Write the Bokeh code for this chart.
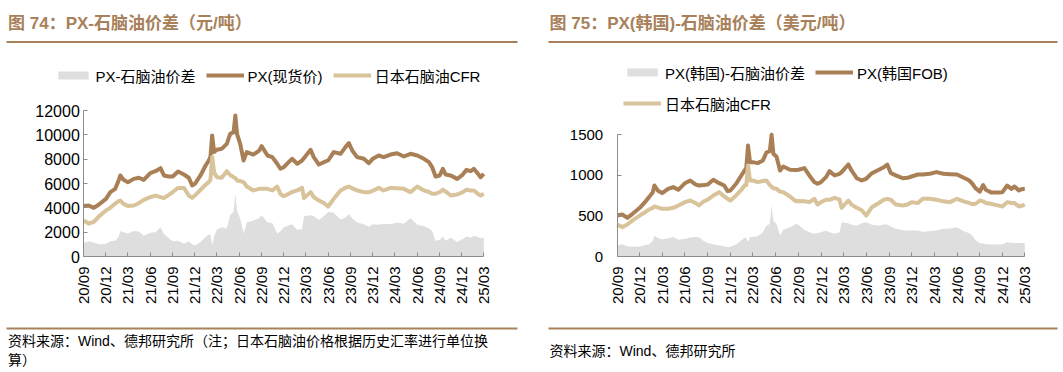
import math
from datetime import datetime
from bokeh.plotting import figure
from bokeh.models import (Range1d, FixedTicker, Legend, LegendItem, Label, BoxAnnotation,
                          ColumnDataSource, DatetimeTickFormatter)
from bokeh.layouts import row
from bokeh.embed import file_html
from bokeh.resources import INLINE

# ---------------- data ----------------
dates = [
    "2020-09-01", "2020-09-21", "2020-10-12", "2020-11-02", "2020-12-01", "2020-12-19",
    "2021-01-08", "2021-01-22", "2021-01-29", "2021-02-11", "2021-03-01", "2021-03-25",
    "2021-04-15", "2021-05-05", "2021-06-01", "2021-06-22", "2021-07-13", "2021-07-27",
    "2021-08-16", "2021-09-01", "2021-09-23", "2021-10-17", "2021-11-06", "2021-11-20",
    "2021-12-01", "2021-12-24", "2022-01-14", "2022-01-27", "2022-02-03", "2022-02-10",
    "2022-02-18", "2022-03-01", "2022-03-21", "2022-04-11", "2022-04-25", "2022-05-09",
    "2022-05-16", "2022-05-23", "2022-06-05", "2022-06-19", "2022-07-02", "2022-07-29",
    "2022-08-22", "2022-09-01", "2022-09-25", "2022-10-15", "2022-11-04", "2022-11-17",
    "2022-12-01", "2022-12-21", "2023-01-04", "2023-01-25", "2023-02-14", "2023-02-22",
    "2023-03-21", "2023-04-03", "2023-04-24", "2023-05-14", "2023-06-01", "2023-06-24",
    "2023-07-22", "2023-08-11", "2023-08-25", "2023-09-08", "2023-09-28", "2023-10-26",
    "2023-11-15", "2023-12-01", "2023-12-26", "2024-01-15", "2024-02-12", "2024-03-10",
    "2024-04-07", "2024-05-04", "2024-06-01", "2024-06-28", "2024-07-19", "2024-08-01",
    "2024-08-15", "2024-09-01", "2024-09-14", "2024-09-25", "2024-10-16", "2024-11-12",
    "2024-12-01", "2024-12-20", "2025-01-06", "2025-01-19", "2025-02-05", "2025-02-16",
    "2025-03-01",
]

# Figure 74 (CNY/t)
px_spot_cny = [
    4150, 4190, 4000, 4270, 4740, 5290, 5560, 6250, 6660, 6300, 6110, 6380,
    6470, 6300, 6850, 7010, 7260, 6660, 6580, 6580, 6990, 6740, 6470, 5840,
    5970, 6660, 7480, 7890, 8200, 9950, 8580, 8770, 8850, 9260, 10080, 10220,
    11590, 10080, 9260, 7890, 8580, 8380, 8710, 9070, 8300, 8170, 7620, 7210,
    7340, 7750, 8030, 7620, 7890, 8100, 8770, 8170, 7560, 7750, 7890, 8580,
    8440, 8990, 9320, 8710, 8170, 8030, 7670, 8030, 8300, 8170, 8380, 8490,
    8220, 8440, 8300, 8030, 7750, 7340, 6580, 6660, 7210, 6740, 6660, 6380,
    6660, 7120, 7010, 7210, 6800, 6520, 6800,
]
naphtha_cfr_cny = [
    2960, 2700, 2850, 3300, 3780, 4000, 4350, 4550, 4600, 4330, 4160, 4190,
    4380, 4660, 4880, 5010, 4880, 4800, 5070, 5300, 5640, 5640, 5010, 4820,
    5010, 5480, 5900, 6110, 6300, 8170, 6930, 6520, 6470, 7010, 6700, 6520,
    6450, 6250, 6200, 6110, 5750, 5430, 5560, 5560, 5560, 5430, 5750, 5150,
    4950, 5150, 5300, 5430, 5640, 4800, 5290, 4880, 4600, 4400, 4110, 4740,
    5430, 5650, 5750, 5600, 5430, 5290, 5290, 5400, 5640, 5430, 5640, 5600,
    5560, 5290, 5750, 5430, 5300, 5150, 5150, 5300, 5480, 5350, 5010, 5100,
    5250, 5480, 5430, 5430, 5150, 5010, 5150,
]
spread_cny = [
    1100, 1250, 1150, 1000, 1050, 1250, 1300, 1600, 2100, 2000, 1900, 2100,
    2050, 1700, 1950, 2000, 2400, 1850, 1500, 1250, 1300, 1050, 1250, 1000,
    900, 1200, 1600, 1800, 1800, 900, 1650, 2200, 2400, 2300, 3400, 3700,
    5150, 3800, 3100, 1900, 2800, 2950, 3150, 3400, 2800, 2750, 1900, 2050,
    2400, 2550, 2650, 2200, 2250, 3300, 3400, 3300, 3000, 3300, 3650, 3600,
    3050, 3200, 3500, 3150, 2800, 2650, 2450, 2650, 2600, 2700, 2650, 2800,
    2700, 3150, 2600, 2500, 2300, 2100, 1300, 1350, 1650, 1300, 1550, 1200,
    1400, 1650, 1550, 1700, 1600, 1500, 1550,
]

# Figure 75 (USD/t)
px_korea_fob_usd = [
    505, 518, 477, 526, 600, 660, 735, 790, 875, 814, 781, 834,
    855, 822, 904, 937, 888, 875, 880, 888, 945, 904, 875, 806,
    814, 896, 999, 1060, 1090, 1369, 1163, 1163, 1151, 1184, 1280, 1300,
    1500, 1266, 1230, 1060, 1110, 1070, 1065, 1069, 1090, 999, 917, 896,
    917, 978, 1052, 999, 1019, 1040, 1134, 1060, 965, 937, 958, 1027,
    1070, 1100, 1134, 1030, 1000, 965, 970, 986, 1011, 1011, 1020, 1040,
    1020, 1015, 1011, 970, 940, 900, 840, 800, 880, 822, 790, 790,
    793, 875, 834, 863, 814, 830, 834,
]
naphtha_cfr_usd = [
    395, 362, 395, 444, 505, 540, 580, 600, 617, 605, 588, 588,
    600, 629, 670, 690, 660, 629, 680, 700, 752, 793, 740, 711,
    690, 752, 820, 875, 880, 1122, 937, 937, 917, 930, 937, 880,
    860, 840, 834, 800, 793, 740, 680, 685, 680, 670, 711, 640,
    670, 699, 699, 723, 700, 600, 690, 640, 600, 570, 505, 608,
    660, 700, 711, 700, 641, 629, 640, 670, 658, 711, 711, 700,
    680, 670, 711, 680, 660, 645, 650, 690, 680, 660, 649, 630,
    617, 670, 660, 658, 617, 625, 641,
]
spread_usd = [
    136, 150, 125, 120, 123, 140, 150, 190, 255, 230, 210, 225,
    240, 205, 220, 235, 240, 238, 190, 165, 150, 136, 125, 115,
    120, 148, 200, 230, 230, 177, 240, 240, 250, 300, 380, 400,
    629, 444, 400, 259, 330, 360, 400, 390, 330, 300, 280, 290,
    300, 321, 300, 280, 300, 423, 410, 390, 380, 410, 423, 390,
    380, 395, 395, 370, 341, 325, 321, 321, 321, 305, 310, 321,
    341, 345, 360, 310, 290, 260, 200, 164, 160, 150, 148, 148,
    150, 177, 170, 165, 165, 165, 164,
]

tick_labels = ["20/09", "20/12", "21/03", "21/06", "21/09", "21/12", "22/03", "22/06",
               "22/09", "22/12", "23/03", "23/06", "23/09", "23/12", "24/03", "24/06",
               "24/09", "24/12", "25/03"]
y_ticks_cny = [0, 2000, 4000, 6000, 8000, 10000, 12000]
y_ticks_usd = [0, 500, 1000, 1500]

legend_cny = ["PX-石脑油价差", "PX(现货价)", "日本石脑油CFR"]
legend_usd = ["PX(韩国)-石脑油价差", "PX(韩国FOB)", "日本石脑油CFR"]

# ---------------- styles ----------------
BROWN = "#A8815B"
PX_COLOR = "#A97F56"
NAP_COLOR = "#D8C39B"
AREA_COLOR = "#DEDEDE"
AXIS_COLOR = "#8C8C8C"
MIXED = "'Liberation Sans', 'Noto Sans CJK SC', sans-serif"
H = 371


def tick_dt(lbl):
    yy, mm = lbl.split("/")
    return datetime(2000 + int(yy), int(mm), 1)


def to_ms(d):
    return (d - datetime(1970, 1, 1)).total_seconds() * 1000.0


x_dates = [datetime.strptime(d, "%Y-%m-%d") for d in dates]


def make_panel(fig_w, fig_left, ax_x0, ax_x1, ax_y0, ax_ytop, yticks, px, nap, spr, labels,
               ysize, ystand, legend_xy, ncols, title, text_x, line_x0, line_x1, src_lines):
    t0 = to_ms(tick_dt(tick_labels[0]))
    t1 = to_ms(tick_dt(tick_labels[-1]))
    ppm = (ax_x1 - ax_x0) / (t1 - t0)
    xs = t0 - (ax_x0 - fig_left) / ppm
    xe = t1 + (fig_left + fig_w - ax_x1) / ppm
    ymax = yticks[-1]
    vpp = ymax / (ax_y0 - ax_ytop)
    ys = (ax_y0 - H) * vpp
    ye = ax_y0 * vpp

    p = figure(width=fig_w, height=H, x_axis_type="datetime", output_backend="svg",
               toolbar_location=None, x_range=Range1d(xs, xe), y_range=Range1d(ys, ye),
               min_border=0)
    p.outline_line_color = None
    p.grid.visible = False
    p.background_fill_color = "white"
    p.border_fill_color = "white"

    src = ColumnDataSource(dict(x=x_dates, px=px, nap=nap, spr=spr))
    r_area = p.varea(x="x", y1=0, y2="spr", source=src, fill_color=AREA_COLOR)
    r_px = p.line(x="x", y="px", source=src, line_color=PX_COLOR, line_width=4,
                  line_join="round")
    r_nap = p.line(x="x", y="nap", source=src, line_color=NAP_COLOR, line_width=4,
                   line_join="round")

    xa = p.xaxis[0]
    xa.fixed_location = 0
    xa.bounds = (t0, t1)
    xa.ticker = FixedTicker(ticks=[to_ms(tick_dt(t)) for t in tick_labels])
    fmt = "%y/%m"
    xa.formatter = DatetimeTickFormatter(days=fmt, months=fmt, years=fmt)
    xa.major_label_orientation = math.pi / 2
    xa.major_label_standoff = 10
    xa.major_label_text_font_size = "15px"

    ya = p.yaxis[0]
    ya.fixed_location = t0
    ya.bounds = (0, ymax)
    ya.ticker = FixedTicker(ticks=yticks)
    ya.major_label_standoff = ystand
    ya.major_label_text_font_size = ysize

    for ax in (xa, ya):
        ax.axis_line_color = AXIS_COLOR
        ax.major_tick_line_color = AXIS_COLOR
        ax.major_tick_in = 4
        ax.major_tick_out = 0
        ax.minor_tick_line_color = None
        ax.major_label_text_color = "#000000"
        ax.major_label_text_font = "Liberation Sans"

    def sx(X):
        return X - fig_left

    def sy(Y):
        return H - Y

    items = [LegendItem(label=labels[0], renderers=[r_area]),
             LegendItem(label=labels[1], renderers=[r_px]),
             LegendItem(label=labels[2], renderers=[r_nap])]
    leg = Legend(items=items, location=(sx(legend_xy[0]), sy(legend_xy[1])),
                 orientation="horizontal", ncols=ncols,
                 background_fill_alpha=0, border_line_alpha=0, padding=0, margin=0,
                 spacing=10, label_standoff=4, glyph_width=38, glyph_height=10,
                 label_height=17, label_text_font_size="15px", label_text_font=MIXED,
                 label_text_color="#000000")
    p.add_layout(leg)

    p.add_layout(Label(x=sx(text_x), y=sy(23), x_units="screen", y_units="screen",
                       text=title, text_font=MIXED, text_font_size="17px",
                       text_font_style="bold", text_color=BROWN,
                       text_baseline="middle", text_align="left"))
    for yline in (41.5, 328):
        p.add_layout(BoxAnnotation(left=sx(line_x0), right=sx(line_x1),
                                   top=sy(yline - 1), bottom=sy(yline + 1),
                                   left_units="screen", right_units="screen",
                                   top_units="screen", bottom_units="screen",
                                   fill_color=BROWN, fill_alpha=1, line_color=None))
    for txt, ycen in src_lines:
        p.add_layout(Label(x=sx(text_x), y=sy(ycen), x_units="screen", y_units="screen",
                           text=txt, text_font=MIXED, text_font_size="14px",
                           text_color="#000000", text_baseline="middle",
                           text_align="left"))
    return p


p1 = make_panel(fig_w=538, fig_left=0, ax_x0=83.3, ax_x1=483.3, ax_y0=256, ax_ytop=110,
                yticks=y_ticks_cny, px=px_spot_cny, nap=naphtha_cfr_cny, spr=spread_cny,
                labels=legend_cny, ysize="16px", ystand=4,
                legend_xy=(53.6, 85.8), ncols="auto",
                title="图 74：PX-石脑油价差（元/吨）", text_x=7.5, line_x0=6, line_x1=517,
                src_lines=[("资料来源：Wind、德邦研究所（注；日本石脑油价格根据历史汇率进行单位换", 340.8),
                           ("算）", 359)])

p2 = make_panel(fig_w=524, fig_left=538, ax_x0=616.7, ax_x1=1024.3, ax_y0=256, ax_ytop=134.3,
                yticks=y_ticks_usd, px=px_korea_fob_usd, nap=naphtha_cfr_usd, spr=spread_usd,
                labels=legend_usd, ysize="15px", ystand=14,
                legend_xy=(623, 113.5), ncols=2,
                title="图 75：PX(韩国)-石脑油价差（美元/吨）", text_x=549, line_x0=548,
                line_x1=1057, src_lines=[("资料来源：Wind、德邦研究所", 350)])

layout = row(p1, p2)
open("out.html", "w").write(file_html(layout, INLINE))
